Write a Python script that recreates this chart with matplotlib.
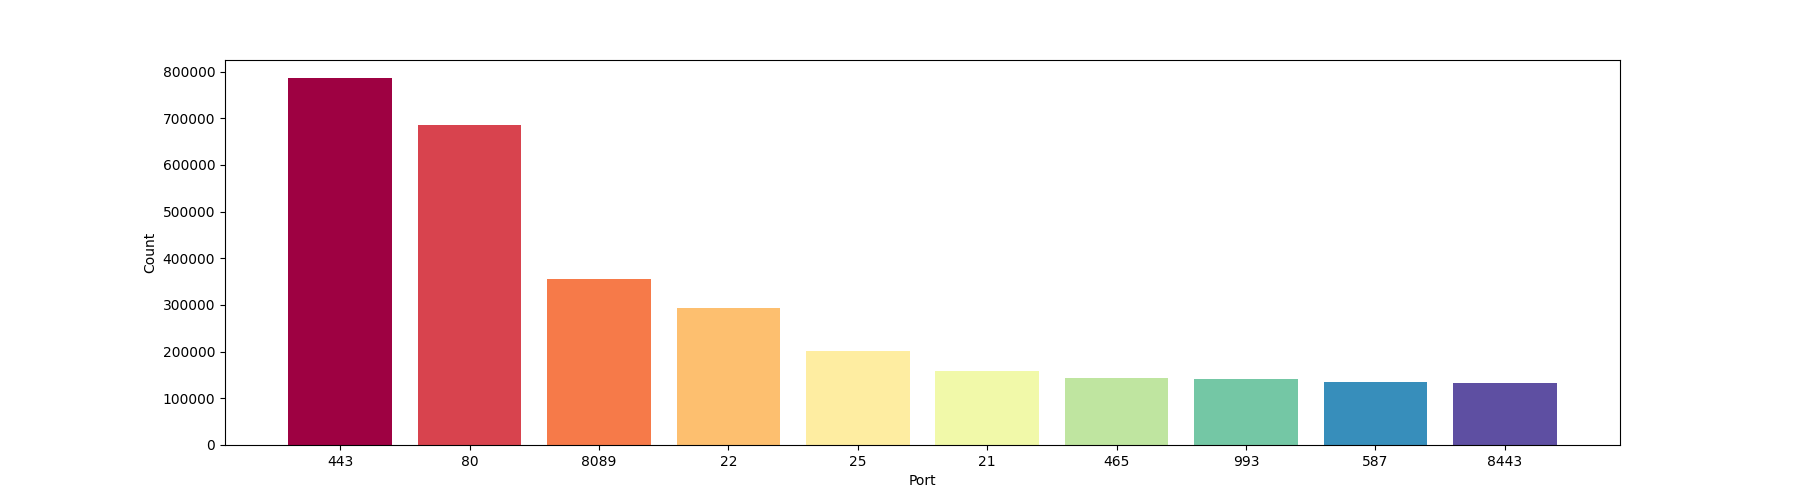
import matplotlib
matplotlib.use('Agg')
import matplotlib.pyplot as plt
import numpy as np
from matplotlib import cm

ports = ['443', '80', '8089', '22', '25', '21', '465', '993', '587', '8443']
counts = [785700, 685200, 355700, 294300, 201500, 158300, 143300, 141200, 134800, 132600]

colors = cm.Spectral(np.linspace(0, 1, len(ports)))

fig = plt.figure(figsize=(18, 5), dpi=100)
ax = fig.add_subplot(111)
ax.bar(ports, counts, color=colors)
ax.set_xlabel('Port')
ax.set_ylabel('Count')
fig.savefig('out.png')
